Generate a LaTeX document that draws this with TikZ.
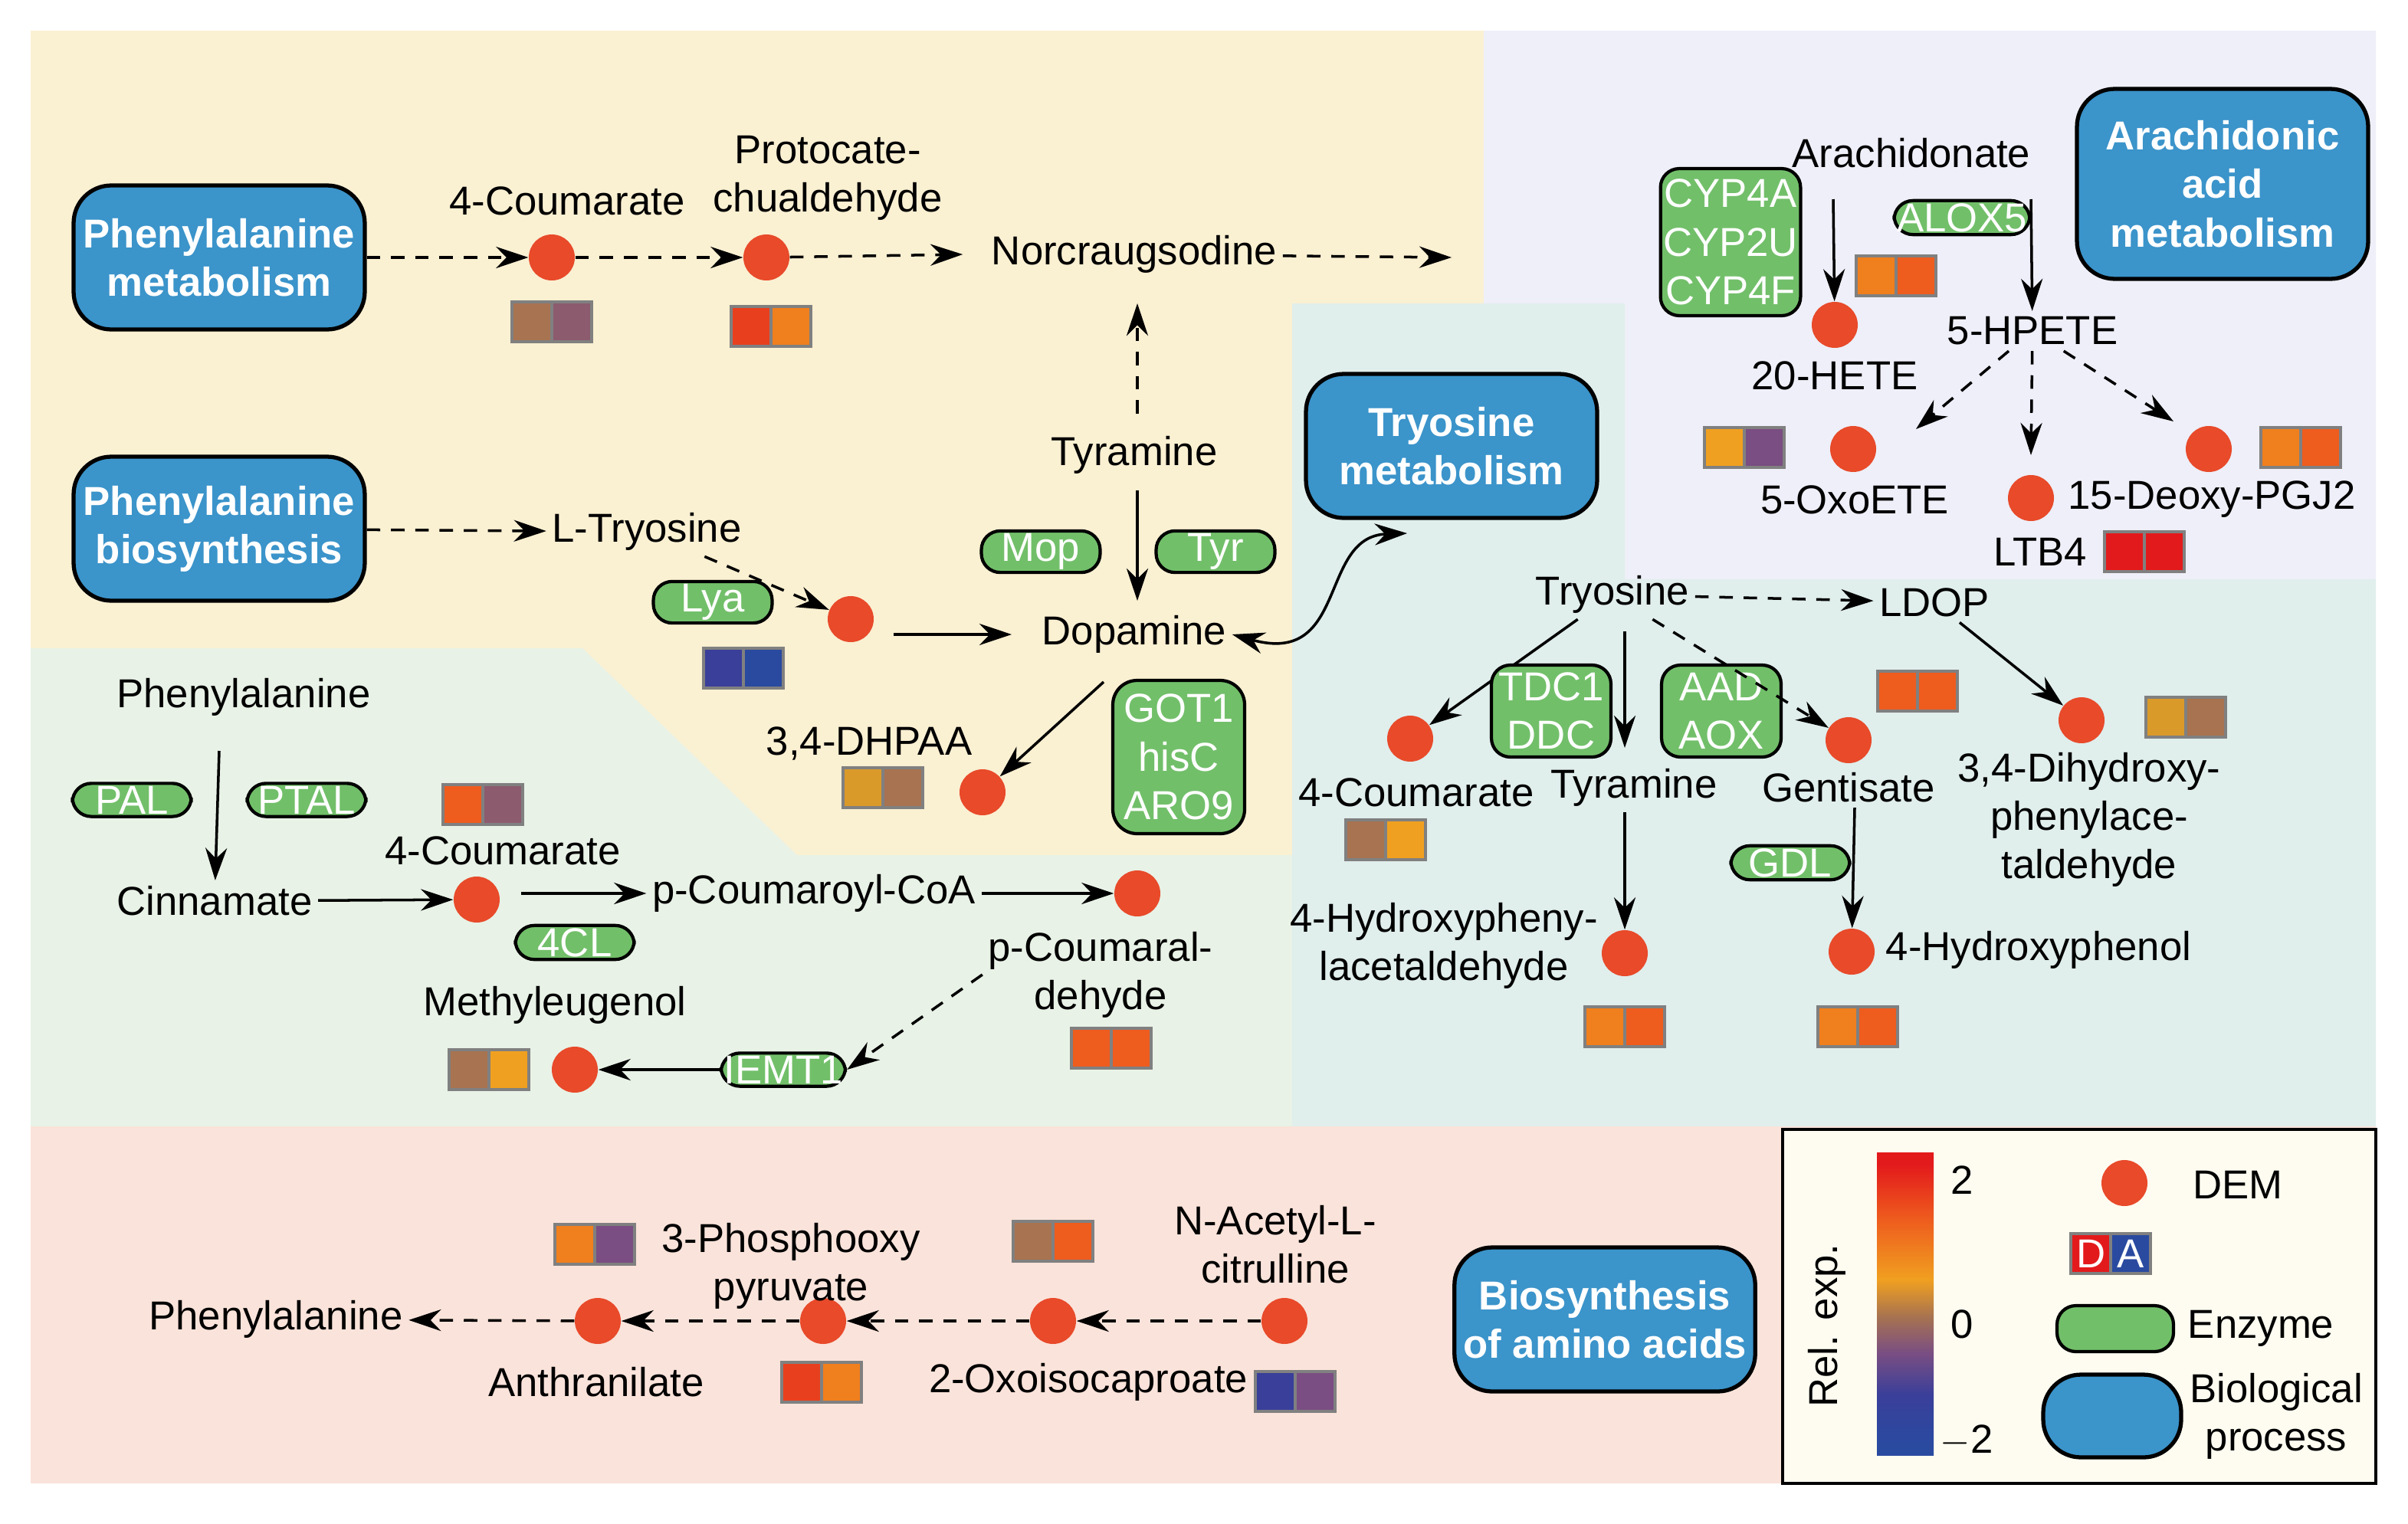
\documentclass[tikz,border=0pt]{standalone}
\usepackage{fontspec}
\setmainfont{Liberation Sans}
\usetikzlibrary{positioning,arrows.meta}
\definecolor{cyel}{HTML}{FAF0D2}
\definecolor{cgrn}{HTML}{E8F2E6}
\definecolor{cteal}{HTML}{E0EEEC}
\definecolor{clav}{HTML}{EEEFF8}
\definecolor{cpink}{HTML}{FAE3DA}
\definecolor{clegend}{HTML}{FEFCF0}
\definecolor{cproc}{HTML}{3B94CA}
\definecolor{cenz}{HTML}{72BF6A}
\definecolor{cdem}{HTML}{E84A2A}
\definecolor{cred}{HTML}{E31A1C}
\definecolor{credo}{HTML}{E8401E}
\definecolor{corg}{HTML}{F07F1D}
\definecolor{corg2}{HTML}{EE5C1E}
\definecolor{cbrown}{HTML}{A87350}
\definecolor{cmauve}{HTML}{8C5B6E}
\definecolor{cpurple}{HTML}{7A4E82}
\definecolor{cblue}{HTML}{3A3F9A}
\definecolor{cnavy}{HTML}{2A4AA0}
\definecolor{cgold}{HTML}{DA9A2A}
\definecolor{camber}{HTML}{F0A020}
\pgfdeclareverticalshading{relexp}{100bp}{color(0bp)=(cnavy); color(27bp)=(cnavy); color(35bp)=(cblue); color(42bp)=(cpurple); color(48bp)=(cbrown); color(54bp)=(camber); color(64bp)=(corg2); color(73bp)=(cred); color(100bp)=(cred)}
\tikzset{
  lab/.style={font=\fontsize{15}{18}\selectfont, align=center, inner sep=2pt},
  dem/.style={circle, fill=cdem, minimum size=0.6cm, inner sep=0pt},
  enz/.style={draw, line width=1.2pt, rounded corners=7pt, fill=cenz, text=white, font=\fontsize{15}{18}\selectfont, align=center, inner sep=1pt},
  proc/.style={draw, line width=1.5pt, rounded corners=14pt, fill=cproc, text=white, font=\bfseries\fontsize{15}{18}\selectfont, align=center, minimum width=3.8cm, minimum height=1.88cm},
  sq/.style={draw=gray, line width=1pt, minimum size=0.52cm, inner sep=0pt, outer sep=0pt},
  arr/.style={-{Stealth[length=12pt,width=8pt]}, line width=1pt},
  darr/.style={arr, dash pattern=on 5pt off 4pt},
}
\newcommand{\hpair}[4]{%
  \node[sq, fill=#3] (#1a) at (#2) {};
  \node[sq, fill=#4, right=0pt of #1a] (#1b) {};}
\begin{document}
\begin{tikzpicture}[x=0.02cm, y=-0.02cm]
\useasboundingbox (0,0) rectangle (1571,994);
% regions
\fill[cyel] (20,20) -- (968,20) -- (968,198) -- (843,198) -- (843,558) -- (520,558) -- (380,423) -- (20,423) -- cycle;
\fill[cgrn] (20,423) -- (380,423) -- (520,558) -- (843,558) -- (843,735) -- (20,735) -- cycle;
\fill[cteal] (843,198) -- (1060,198) -- (1060,378) -- (1550,378) -- (1550,735) -- (843,735) -- cycle;
\fill[clav] (968,20) -- (1550,20) -- (1550,378) -- (1060,378) -- (1060,198) -- (968,198) -- cycle;
\fill[cpink] (20,735) rectangle (1550,968);
\draw[fill=clegend, line width=1.2pt] (1163,737) rectangle (1550,968);

% processes
\node[proc] (pmet) at (143,168) {Phenylalanine\\metabolism};
\node[proc] (pbio) at (143,345) {Phenylalanine\\biosynthesis};
\node[proc] (tmet) at (947,291) {Tryosine\\metabolism};
\node[proc, minimum height=2.48cm] (amet) at (1450,120) {Arachidonic\\acid\\metabolism};
\node[proc] (aabio) at (1047,861) {Biosynthesis\\of amino acids};

% phenylalanine metabolism
\node[dem] (c1) at (360,168) {};
\node[lab] (coum1) at (370,131) {4-Coumarate};
\hpair{h1}{347,210}{cbrown}{cmauve}
\node[dem] (c2) at (500,168) {};
\node[lab] (proto) at (540,116) {Protocate-\\chualdehyde};
\hpair{h2}{490,213}{credo}{corg}
\node[lab] (norc) at (740,166) {Norcraugsodine};
\coordinate (nend) at (947,168);
\coordinate (nbot) at (742,198);
\draw[darr] (pmet) -- (c1);
\draw[darr] (c1) -- (c2);
\draw[darr] (c2) -- ([xshift=-0.3cm]norc.west);
\draw[darr] (norc) -- (nend);
\node[lab] (tyra1) at (740,297) {Tyramine};
\draw[darr] (742,270) -- (nbot);
\node[lab] (dopa) at (740,414) {Dopamine};
\draw[arr] (742,320) -- (742,392);
\node[enz, minimum width=1.55cm] (mop) at (679,360) {Mop};
\node[enz, minimum width=1.55cm] (tyr) at (793,360) {Tyr};
\node[lab] (ltyr) at (422,347) {L-Tryosine};
\draw[darr] (pbio) -- (ltyr);
\node[dem] (c3) at (555,404) {};
\draw[darr] (ltyr) -- (c3);
\node[enz, minimum width=1.55cm] (lya) at (465,393) {Lya};
\hpair{h3}{472,436}{cblue}{cnavy}
\draw[arr] (583,414) -- (660,414);
\node[dem] (c4) at (641,517) {};
\node[lab] (dhpaa) at (567,485) {3,4-DHPAA};
\hpair{h4}{563,514}{cgold}{cbrown}
\draw[arr] (720,445) -- (c4);
\node[enz, minimum width=1.72cm, minimum height=2cm, rounded corners=9pt] (got) at (769,494) {GOT1\\hisC\\ARO9};
\draw[{Stealth[length=12pt,width=8pt]}-{Stealth[length=12pt,width=8pt]}, line width=1pt] (dopa.east) .. controls (880,435) and (860,350) .. (918,348);

% phenylalanine biosynthesis, lower left
\node[lab] (phe1) at (159,455) {Phenylalanine};
\node[lab] (cinn) at (140,588) {Cinnamate};
\draw[arr] (143,490) -- (cinn);
\node[enz, minimum width=1.55cm] (pal) at (86,522) {PAL};
\node[enz, minimum width=1.55cm] (ptal) at (200,522) {PTAL};
\node[dem] (c5) at (311,587) {};
\node[lab] (coum2) at (328,555) {4-Coumarate};
\hpair{h5}{302,525}{corg2}{cmauve}
\draw[arr] (cinn) -- (c5);
\node[lab] (pcoa) at (531,583) {p-Coumaroyl-CoA};
\draw[arr] (340,583) -- (pcoa);
\node[enz, minimum width=1.55cm] (fcl) at (375,615) {4CL};
\node[dem] (c6) at (742,583) {};
\draw[arr] (pcoa) -- (c6);
\node[lab] (pcald) at (718,636) {p-Coumaral-\\dehyde};
\hpair{h6}{712,684}{corg2}{corg2}
\node[enz, minimum width=1.55cm] (iemt) at (511,698) {IEMT1};
\draw[darr] (pcald.west) -- (iemt.east);
\node[dem] (c7) at (375,698) {};
\draw[arr] (iemt) -- (c7);
\node[lab] (meth) at (362,656) {Methyleugenol};
\hpair{h7}{306,698}{cbrown}{camber}

% tyrosine metabolism
\node[lab] (tyro) at (1052,388) {Tryosine};
\node[lab] (ldop) at (1262,393) {LDOP};
\draw[darr] (tyro) -- (ldop);
\node[dem] (c8) at (1358,470) {};
\draw[arr] (ldop) -- (c8);
\node[lab] (dhpa) at (1363,535) {3,4-Dihydroxy-\\phenylace-\\taldehyde};
\hpair{h8}{1413,468}{cgold}{cbrown}
\node[dem] (c9) at (920,482) {};
\draw[arr] (tyro) -- (c9);
\node[lab] (coum3) at (924,517) {4-Coumarate};
\hpair{h9}{891,548}{cbrown}{camber}
\node[enz, minimum width=1.56cm, minimum height=1.2cm] (tdc) at (1012,464) {TDC1\\DDC};
\node[lab] (tyra2) at (1066,514) {Tyramine};
\draw[arr] (1060,412) -- (1060,488);
\node[enz, minimum width=1.56cm, minimum height=1.2cm] (aad) at (1123,464) {AAD\\AOX};
\node[dem] (c10) at (1206,483) {};
\draw[darr] (tyro) -- (c10);
\node[lab] (gent) at (1206,514) {Gentisate};
\hpair{h10}{1238,451}{corg2}{corg2}
\node[dem] (c11) at (1060,622) {};
\draw[arr] (1060,530) -- (c11);
\node[lab] (hpal) at (942,617) {4-Hydroxypheny-\\lacetaldehyde};
\hpair{h11}{1047,670}{corg}{corg2}
\node[dem] (c12) at (1208,621) {};
\draw[arr] (1210,527) -- (c12);
\node[enz, minimum width=1.55cm] (gdl) at (1168,563) {GDL};
\node[lab] (hphen) at (1330,620) {4-Hydroxyphenol};
\hpair{h12}{1199,670}{corg}{corg2}

% arachidonic acid
\node[lab] (arach) at (1247,100) {Arachidonate};
\node[dem] (c13) at (1197,212) {};
\node[lab] (hete) at (1197,245) {20-HETE};
\node[lab] (hpete) at (1326,216) {5-HPETE};
\draw[arr] (1196,130) -- (c13);
\draw[arr] (1325,130) -- (hpete);
\node[enz, minimum width=1.68cm, minimum height=1.92cm] (cyp) at (1129,158) {CYP4A\\CYP2U\\CYP4F};
\node[enz, minimum width=1.6cm] (alox) at (1280,142) {ALOX5};
\hpair{h13}{1224,180}{corg}{corg2}
\node[dem] (c14) at (1209,293) {};
\node[dem] (c15) at (1325,325) {};
\node[dem] (c16) at (1441,293) {};
\draw[darr] (hpete) -- (1250,280);
\draw[darr] (hpete) -- (1325,297);
\draw[darr] (hpete) -- (1418,275);
\node[lab] (oxo) at (1210,326) {5-OxoETE};
\hpair{h14}{1125,292}{camber}{cpurple}
\node[lab] (pgj) at (1443,326) {15-Deoxy-PGJ2};
\hpair{h15}{1488,292}{corg}{corg2}
\node[lab] (ltb) at (1331,360) {LTB4};
\hpair{h16}{1386,360}{cred}{cred}

% amino acids
\node[lab] (phe2) at (180,861) {Phenylalanine};
\node[dem] (c17) at (390,862) {};
\node[dem] (c18) at (537,862) {};
\node[dem] (c19) at (687,862) {};
\node[dem] (c20) at (838,862) {};
\draw[darr] (c20) -- (c19);
\draw[darr] (c19) -- (c18);
\draw[darr] (c18) -- (c17);
\draw[darr] (c17) -- (phe2);
\node[lab] (ppyr) at (516,826) {3-Phosphooxy\\pyruvate};
\node[lab] (anth) at (389,902) {Anthranilate};
\node[lab] (oxoc) at (710,902) {2-Oxoisocaproate};
\node[lab] (nacit) at (832,812) {N-Acetyl-L-\\citrulline};
\hpair{h17}{375,812}{corg}{cpurple}
\hpair{h18}{674,810}{cbrown}{corg2}
\hpair{h19}{523,902}{credo}{corg}
\hpair{h20}{832,908}{cblue}{cpurple}

% legend
\node[shading=relexp, minimum width=0.74cm, minimum height=3.96cm, inner sep=0pt] (bar) at (1243,851) {};
\node[lab] (l2) at (1280,770) {2};
\node[lab] (l0) at (1280,864) {0};
\node[lab] (lm2) at (1283,940) {$-$2};
\node[lab, rotate=90] (rel) at (1192,865) {Rel. exp.};
\node[dem] (ldem) at (1386,772) {};
\node[lab] (tdem) at (1460,773) {DEM};
\node[sq, fill=cred, text=white, font=\fontsize{15}{18}\selectfont] (lda) at (1364,818) {D};
\node[sq, fill=cnavy, text=white, font=\fontsize{15}{18}\selectfont, right=0pt of lda] (ldb) {A};
\node[enz, minimum width=1.52cm, minimum height=0.6cm] (lenz) at (1380,867) {};
\node[lab] (tenz) at (1475,867) {Enzyme};
\node[proc, minimum width=1.8cm, minimum height=1.08cm] (lproc) at (1378,924) {};
\node[lab] (tproc) at (1485,924) {Biological\\process};
\end{tikzpicture}
\end{document}
